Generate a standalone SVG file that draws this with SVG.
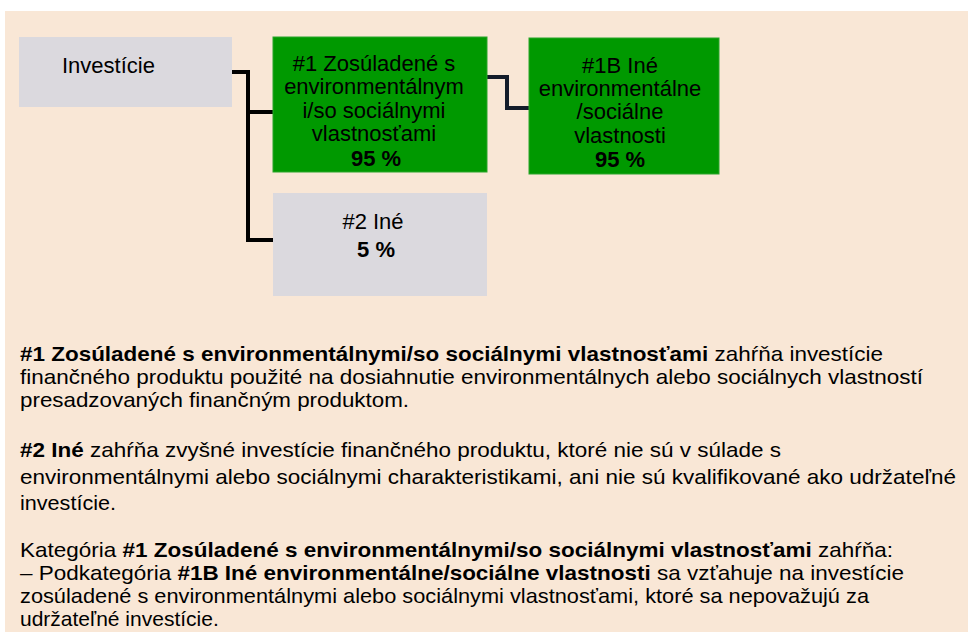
<svg xmlns="http://www.w3.org/2000/svg" width="968" height="632" viewBox="0 0 968 632">
<style>
.t{font-family:"Liberation Sans",Arial,sans-serif;font-size:22px;fill:#000}
.p{font-family:"Liberation Sans",Arial,sans-serif;font-size:21px;fill:#000}
.c{text-anchor:middle}
.b{font-weight:bold}
.gray{fill:#dbd9de}
.green{fill:#009900;stroke:#2aa52a;stroke-width:1}
.ln{fill:none;stroke:#000;stroke-width:4}
</style>
<rect x="0" y="0" width="968" height="632" fill="#ffffff"/>
<rect x="5" y="11" width="963" height="621" fill="#f9e7d6"/>
<g id="connectors">
<path class="ln" d="M232 72 H248 V240 H273 M248 112 H273"/>
<path class="ln" style="stroke:#141c2a" d="M487 77 H507 V108 H529"/>
</g>
<g id="investicie">
<rect class="gray" x="19" y="37" width="213" height="70"/>
<text class="t" x="62" y="73">Investície</text>
</g>
<g id="n1">
<rect class="green" x="273" y="37" width="214" height="135"/>
<text class="t c" x="374" y="71">#1 Zosúladené s</text>
<text class="t c" x="374" y="94">environmentálnym</text>
<text class="t c" x="374" y="118">i/so sociálnymi</text>
<text class="t c" x="374" y="141">vlastnosťami</text>
<text class="t c b" x="376" y="166">95 %</text>
</g>
<g id="n1b">
<rect class="green" x="529" y="38" width="190" height="136"/>
<text class="t c" x="620" y="73">#1B Iné</text>
<text class="t c" x="620" y="96">environmentálne</text>
<text class="t c" x="620" y="119">/sociálne</text>
<text class="t c" x="620" y="143">vlastnosti</text>
<text class="t c b" x="620" y="167">95 %</text>
</g>
<g id="n2">
<rect class="gray" x="273" y="193" width="214" height="103"/>
<text class="t c" x="373" y="229">#2 Iné</text>
<text class="t c b" x="376" y="257">5 %</text>
</g>
<g id="legend">
<text class="p" x="20" y="361" textLength="863" lengthAdjust="spacingAndGlyphs"><tspan class="b">#1 Zosúladené s environmentálnymi/so sociálnymi vlastnosťami</tspan> zahŕňa investície</text>
<text class="p" x="20" y="384" textLength="903" lengthAdjust="spacingAndGlyphs">finančného produktu použité na dosiahnutie environmentálnych alebo sociálnych vlastností</text>
<text class="p" x="20" y="407" textLength="389" lengthAdjust="spacingAndGlyphs">presadzovaných finančným produktom.</text>
<text class="p" x="20" y="457" textLength="761" lengthAdjust="spacingAndGlyphs"><tspan class="b">#2 Iné</tspan> zahŕňa zvyšné investície finančného produktu, ktoré nie sú v súlade s</text>
<text class="p" x="20" y="484" textLength="936" lengthAdjust="spacingAndGlyphs">environmentálnymi alebo sociálnymi charakteristikami, ani nie sú kvalifikované ako udržateľné</text>
<text class="p" x="20" y="510" textLength="96" lengthAdjust="spacingAndGlyphs">investície.</text>
<text class="p" x="20" y="557" textLength="873" lengthAdjust="spacingAndGlyphs">Kategória <tspan class="b">#1 Zosúladené s environmentálnymi/so sociálnymi vlastnosťami</tspan> zahŕňa:</text>
<text class="p" x="20" y="580" textLength="884" lengthAdjust="spacingAndGlyphs">– Podkategória <tspan class="b">#1B Iné environmentálne/sociálne vlastnosti</tspan> sa vzťahuje na investície</text>
<text class="p" x="20" y="603" textLength="849" lengthAdjust="spacingAndGlyphs">zosúladené s environmentálnymi alebo sociálnymi vlastnosťami, ktoré sa nepovažujú za</text>
<text class="p" x="20" y="626">udržateľné investície.</text>
</g>
</svg>
